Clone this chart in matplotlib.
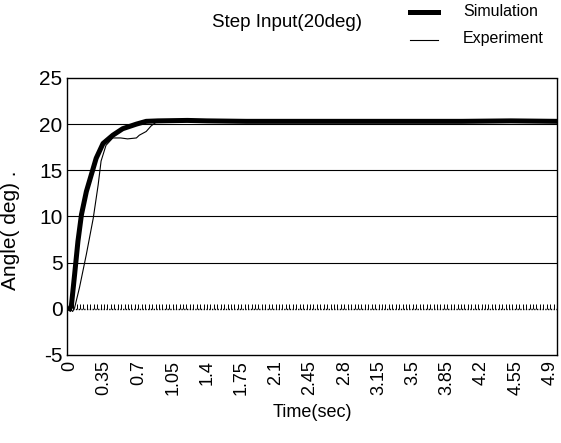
import numpy as np
import matplotlib.pyplot as plt
from matplotlib.lines import Line2D

plt.rcParams['font.family'] = ['Liberation Sans', 'DejaVu Sans']
plt.rcParams['axes.unicode_minus'] = False

# Datos
t_sim = [0, 0.017, 0.05, 0.084, 0.12, 0.17, 0.22, 0.27, 0.34, 0.44, 0.54, 0.68, 0.78, 0.9,
         1.2, 1.4, 1.8, 2.5, 3.2, 4.0, 4.5, 4.97]
y_sim = [0, 0.3, 3.7, 7.3, 10.2, 12.7, 14.5, 16.3, 17.9, 18.8, 19.5, 20.0, 20.3, 20.35,
         20.4, 20.35, 20.3, 20.3, 20.3, 20.3, 20.35, 20.3]

t_exp = [0, 0.03, 0.05, 0.10, 0.17, 0.24, 0.29, 0.32, 0.37, 0.44, 0.52, 0.59, 0.68, 0.71,
         0.78, 0.83, 0.88, 1.0, 1.4, 2.0, 3.0, 4.0, 4.97]
y_exp = [0, -0.3, 0.1, 2.3, 5.9, 9.8, 13.4, 16.0, 17.7, 18.5, 18.5, 18.4, 18.5, 18.8,
         19.2, 19.8, 20.2, 20.3, 20.4, 20.3, 20.3, 20.3, 20.3]

xticks = [0, 0.35, 0.7, 1.05, 1.4, 1.75, 2.1, 2.45, 2.8, 3.15, 3.5, 3.85, 4.2, 4.55, 4.9]
xticklabels = ['0', '0.35', '0.7', '1.05', '1.4', '1.75', '2.1', '2.45', '2.8', '3.15',
               '3.5', '3.85', '4.2', '4.55', '4.9']
yticks = [-5, 0, 5, 10, 15, 20, 25]

fig = plt.figure(figsize=(5.61, 4.43), dpi=100)
fig.patch.set_facecolor('white')
ax = fig.add_axes([0.119, 0.199, 0.874, 0.625])

# lineas de grilla
for yv in [5, 10, 15, 20]:
    ax.axhline(yv, color='black', lw=0.8, zorder=1)
ax.axhline(0, color='black', lw=1.0, ls=(0, (1, 1)), zorder=1)
# marcas pequeñas sobre el eje y=0
ax.vlines(np.arange(0, 4.97, 0.035), 0, 0.5, color='black', lw=0.7, zorder=1)

ax.plot(t_sim, y_sim, color='black', lw=3.6, solid_joinstyle='round', zorder=3)
ax.plot(t_exp, y_exp, color='black', lw=0.8, zorder=4)

ax.set_xlim(-0.03, 4.97)
ax.set_ylim(-5, 25)
ax.set_xticks(xticks)
ax.set_xticklabels(xticklabels, rotation=90, fontsize=13)
ax.set_yticks(yticks)
ax.set_yticklabels([str(v) for v in yticks], fontsize=15)
ax.tick_params(axis='x', length=0, pad=4)
ax.tick_params(axis='y', length=0, pad=3)

for s in ['top', 'right', 'bottom']:
    ax.spines[s].set_linestyle((0, (1, 1)))
    ax.spines[s].set_linewidth(1.0)
ax.spines['left'].set_linewidth(1.0)

ax.set_xlabel('Time(sec)', fontsize=13, labelpad=6)
ax.set_ylabel('Angle( deg) .', fontsize=15)
ax.yaxis.set_label_coords(-0.095, 0.45)

# leyenda manual
fig.text(0.512, 0.95, 'Step Input(20deg)', fontsize=13.5, ha='center', va='center')
fig.add_artist(Line2D([0.731, 0.781], [0.973, 0.973], color='black', lw=3.6))
fig.add_artist(Line2D([0.731, 0.781], [0.909, 0.909], color='black', lw=0.8))
fig.text(0.825, 0.973, 'Simulation', fontsize=11.5, ha='left', va='center')
fig.text(0.825, 0.914, 'Experiment', fontsize=11.5, ha='left', va='center')

plt.savefig('out.png', dpi=100, facecolor='white')
